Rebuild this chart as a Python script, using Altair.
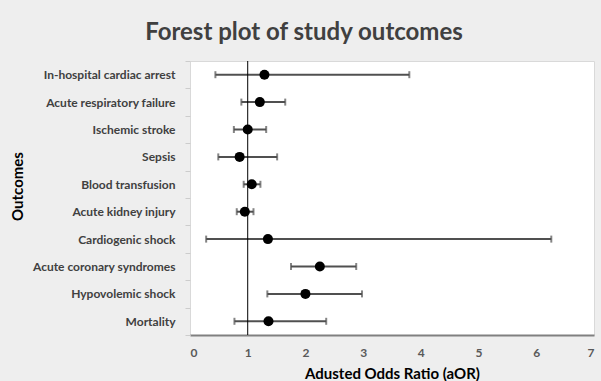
import altair as alt
import pandas as pd

outcomes = [
    "In-hospital cardiac arrest",
    "Acute respiratory failure",
    "Ischemic stroke",
    "Sepsis",
    "Blood transfusion",
    "Acute kidney injury",
    "Cardiogenic shock",
    "Acute coronary syndromes",
    "Hypovolemic shock",
    "Mortality",
]
aor = [1.29, 1.21, 1.00, 0.86, 1.07, 0.95, 1.35, 2.25, 2.00, 1.36]
lower = [0.44, 0.89, 0.76, 0.49, 0.93, 0.81, 0.28, 1.75, 1.34, 0.77]
upper = [3.80, 1.65, 1.32, 1.51, 1.22, 1.10, 6.26, 2.88, 2.98, 2.36]
ref_line = [1]
x_ticks = [0, 1, 2, 3, 4, 5, 6, 7]

df = pd.DataFrame({"outcome": outcomes, "aor": aor, "lower": lower, "upper": upper})
ref_df = pd.DataFrame({"ref": ref_line})

FONT = "Lato"

y_enc = alt.Y(
    "outcome:N",
    sort=outcomes,
    scale=alt.Scale(type="band", paddingInner=0, paddingOuter=0),
    axis=alt.Axis(
        title="Outcomes",
        titleFont=FONT,
        titleFontSize=15,
        titleFontWeight="bold",
        titleColor="#000000",
        titleX=-173,
        titleY=125,
        titleAngle=-90,
        titleAlign="center",
        titleBaseline="middle",
        labelFont=FONT,
        labelFontSize=12,
        labelFontWeight="bold",
        labelColor="#404040",
        labelPadding=10,
        tickBand="extent",
        tickColor="#cccccc",
        tickSize=5,
        domain=False,
        grid=False,
    ),
)

x_scale = alt.Scale(domain=[0, 7], nice=False, zero=True)
x_axis = alt.Axis(
    title="Adusted Odds Ratio (aOR)",
    titleFont=FONT,
    titleFontSize=15,
    titleFontWeight="bold",
    titleColor="#000000",
    titleY=43,
    titleBaseline="alphabetic",
    values=x_ticks,
    format="d",
    labelFont=FONT,
    labelFontSize=12,
    labelFontWeight="bold",
    labelColor="#595959",
    labelPadding=12,
    ticks=False,
    tickSize=0,
    domain=True,
    domainColor="#808080",
    domainWidth=2,
    grid=False,
)

base = alt.Chart(df)

whisker = base.mark_rule(color="#505050", strokeWidth=2).encode(
    x=alt.X("lower:Q", scale=x_scale, axis=x_axis),
    x2="upper:Q",
    y=y_enc,
)
cap_lo = base.mark_tick(color="#505050", size=7, thickness=2, orient="vertical").encode(
    x=alt.X("lower:Q", scale=x_scale),
    y=alt.Y("outcome:N", sort=outcomes),
)
cap_hi = base.mark_tick(color="#505050", size=7, thickness=2, orient="vertical").encode(
    x=alt.X("upper:Q", scale=x_scale),
    y=alt.Y("outcome:N", sort=outcomes),
)
ref = alt.Chart(ref_df).mark_rule(color="#000000", strokeWidth=1).encode(
    x=alt.X("ref:Q", scale=x_scale)
)
points = base.mark_circle(size=100, color="#000000", opacity=1).encode(
    x=alt.X("aor:Q", scale=x_scale),
    y=alt.Y("outcome:N", sort=outcomes),
)

chart = (
    alt.layer(whisker, cap_lo, cap_hi, ref, points)
    .properties(
        width=404,
        height=274,
        title=alt.TitleParams(
            "Forest plot of study outcomes",
            font=FONT,
            fontSize=24,
            fontWeight="bold",
            color="#404040",
            anchor="middle",
            dx=-88,
            offset=10,
        ),
        background="#eeeeee",
        autosize=alt.AutoSizeParams(type="none"),
        padding={"left": 190, "top": 61, "right": 7, "bottom": 46},
    )
    .configure_view(fill="#ffffff", stroke="#d9d9d9", strokeWidth=1)
)

chart.save("out.html", embed_options={"renderer": "svg", "actions": False})
